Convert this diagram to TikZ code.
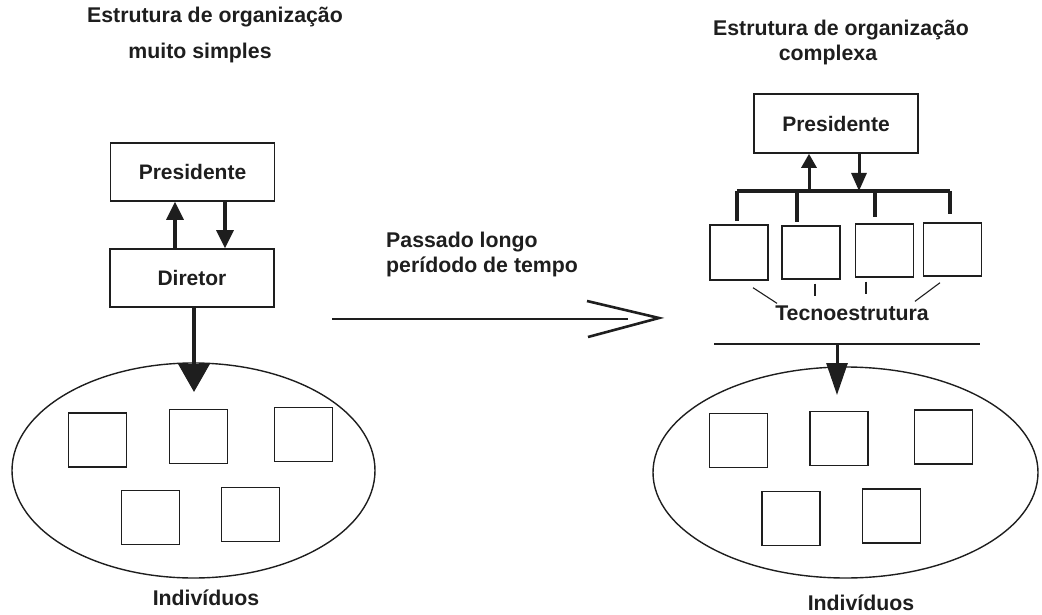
\documentclass[tikz,border=0pt]{standalone}
\usepackage{fontspec}
\setmainfont{Liberation Sans}
\usetikzlibrary{arrows.meta,shapes.geometric,calc}
\definecolor{ink}{HTML}{1E1E1E}
\begin{document}
\begin{tikzpicture}[x=1pt,y=-1pt,
  lbl/.style={font=\fontsize{21.3}{25}\selectfont\bfseries, text=ink, inner sep=0pt},
  box/.style={draw=ink, line width=1.6pt, minimum width=164pt, minimum height=58pt, inner sep=0pt, font=\fontsize{21}{25}\selectfont\bfseries, text=ink},
  sq/.style={draw=ink, line width=1.4pt, minimum width=58pt, minimum height=54pt, inner sep=0pt},
  oval/.style={draw=ink, line width=1.4pt, ellipse, inner sep=0pt},
  thickarr/.style={draw=ink, line width=3.2pt, -{Triangle[length=18pt,width=17pt]}},
  bigarr/.style={draw=ink, line width=3.2pt, -{Triangle[length=28pt,width=31pt]}},
  thin/.style={draw=ink, line width=1.1pt},
  heavy/.style={draw=ink, line width=3.2pt}
]
\useasboundingbox (0,0) rectangle (1042,615);

% ---------- left: simple organisation ----------
\node[lbl] (tL1) at (215,17) {Estrutura de organização};
\node[lbl] (tL2) at (200,53) {muito simples};

\node[box] (pL) at (192.5,172) {Presidente};
\node[box] (dL) at (192,278) {Diretor};

\coordinate (xa) at (175,0);
\coordinate (xb) at (225,0);
\draw[thickarr] (dL.north -| xa) -- (pL.south -| xa);
\draw[thickarr] (pL.south -| xb) -- (dL.north -| xb);

\node[oval, minimum width=363pt, minimum height=215pt] (eL) at (193.5,470.5) {};
\coordinate (bigtip) at (194,392);
\draw[bigarr] (dL.south -| bigtip) -- (bigtip);

\node[sq] (s1) at (97.5,440) {};
\node[sq] (s2) at (198.5,436.5) {};
\node[sq] (s3) at (303.5,434.5) {};
\node[sq] (s4) at (150.5,517.5) {};
\node[sq] (s5) at (250.5,514.5) {};

\node[lbl] (iL) at (206,598) {Indivíduos};

% ---------- middle arrow ----------
\node[lbl, align=left, anchor=west] (mid) at (386,254.5) {Passado longo\\perídodo de tempo};
\coordinate (m1) at (332,319);
\coordinate (m2) at (628,319);
\coordinate (ha) at (587,301);
\coordinate (ht) at (659,318);
\coordinate (hb) at (588,337);
\draw[draw=ink, line width=2.6pt] (m1) -- (m2);
\draw[draw=ink, line width=2.6pt, line join=miter] (ha) -- (ht) -- (hb);

% ---------- right: complex organisation ----------
\node[lbl] (tR1) at (841,30) {Estrutura de organização};
\node[lbl] (tR2) at (828,55) {complexa};

\node[box, minimum height=59pt] (pR) at (836,123.5) {Presidente};

\coordinate (bl) at (737,191);
\coordinate (br) at (950,191);
\draw[heavy] (bl) -- (br);

\node[sq, minimum height=55pt] (t1) at (739,252.5) {};
\node[sq, minimum height=53pt] (t2) at (811,252.5) {};
\node[sq, minimum height=53pt] (t3) at (884.5,250.5) {};
\node[sq, minimum height=53pt] (t4) at (952.5,249.5) {};

\coordinate (d1) at (737,191);
\coordinate (d2) at (797,191);
\coordinate (d3) at (875,191);
\coordinate (d4) at (950,191);
\draw[heavy, shorten >=3pt] (d1) -- (d1 |- t1.north);
\draw[heavy, shorten >=3pt] (d2) -- (d2 |- t2.north);
\draw[heavy, shorten >=6pt] (d3) -- (d3 |- t3.north);
\draw[heavy, shorten >=8pt] (d4) -- (d4 |- t4.north);

\coordinate (u1) at (809,191);
\coordinate (u2) at (859,191);
\draw[draw=ink, line width=3pt, -{Triangle[length=14pt,width=15pt]}] (u1) -- (u1 |- pR.south);
\draw[draw=ink, line width=3pt, -{Triangle[length=18pt,width=15pt]}] (u2 |- pR.south) -- (u2);

\node[lbl] (tec) at (852,313) {Tecnoestrutura};
\draw[thin] ([xshift=14pt,yshift=-7pt]t1.south) -- ([xshift=2pt,yshift=2pt]tec.north west);
\draw[thin] ([xshift=4pt,yshift=-4pt]t2.south) -- ([xshift=4pt,yshift=-16pt]t2.south);
\draw[thin] ([xshift=-18.5pt,yshift=-4pt]t3.south) -- ([xshift=-18.5pt,yshift=-16pt]t3.south);
\draw[thin] ([xshift=-12.5pt,yshift=-6pt]t4.south) -- ([xshift=-14pt,yshift=4pt]tec.north east);

\coordinate (ll) at (714,344);
\coordinate (lr) at (980,344);
\draw[draw=ink, line width=2.8pt] (ll) -- (lr);

\node[oval, minimum width=385pt, minimum height=211pt] (eR) at (845.5,472.5) {};
\coordinate (la) at (837,344);
\coordinate (latip) at (837,395);
\draw[draw=ink, line width=3pt, -{Triangle[length=32pt,width=21pt]}] (la) -- (latip);

\node[sq] (r1) at (738.5,440.5) {};
\node[sq] (r2) at (839,438.5) {};
\node[sq] (r3) at (943.5,437) {};
\node[sq] (r4) at (791,518.5) {};
\node[sq] (r5) at (891.5,516) {};

\node[lbl] (iR) at (861,603) {Indivíduos};
\end{tikzpicture}
\end{document}
